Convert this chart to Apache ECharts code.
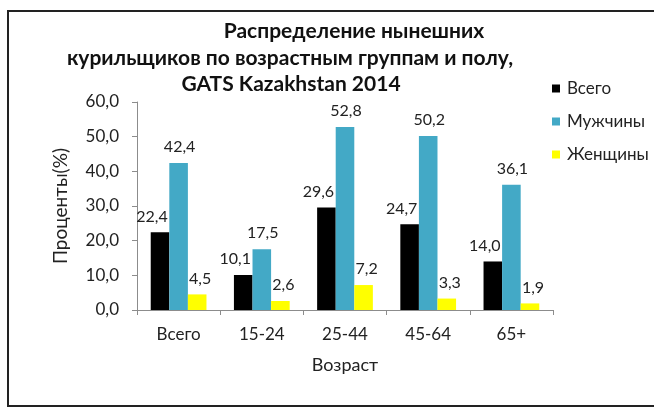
<!DOCTYPE html>
<html>
<head>
<meta charset="utf-8">
<script src="https://cdn.jsdelivr.net/npm/echarts@6/dist/echarts.min.js"></script>
<style>
  html, body { margin: 0; padding: 0; background: #fff; }
  #chart { width: 654px; height: 409px; }
</style>
</head>
<body>
<div id="chart"></div>
<script>
// Age groups on the x axis
const categories = ['Всего', '15-24', '25-44', '45-64', '65+'];
// Share of current smokers, %
const totalValues = [22.4, 10.1, 29.6, 24.7, 14.0];
const maleValues = [42.4, 17.5, 52.8, 50.2, 36.1];
const femaleValues = [4.5, 2.6, 7.2, 3.3, 1.9];
const seriesNames = ['Всего', 'Мужчины', 'Женщины'];
const yTicks = { min: 0, max: 60, interval: 10 };

const FONT = 'Lato, "Open Sans", sans-serif';
const fmt = v => v.toFixed(1).replace('.', ',');

const chart = echarts.init(document.getElementById('chart'), null, { renderer: 'canvas' });

function labelCfg(dx) {
  return {
    show: true,
    position: 'top',
    distance: 8,
    offset: [dx, 0],
    fontFamily: FONT,
    fontSize: 16,
    color: '#222',
    formatter: p => fmt(p.value)
  };
}

const titleLines = [
  { text: 'Распределение нынешних', x: 354, y: 21 },
  { text: 'курильщиков по возрастным группам и полу,', x: 290, y: 48 },
  { text: 'GATS Kazakhstan 2014', x: 291, y: 74 }
];

chart.setOption({
  animation: false,
  backgroundColor: '#fff',
  title: titleLines.map(t => ({
    text: t.text,
    left: t.x,
    top: t.y,
    textAlign: 'center',
    padding: 0,
    textStyle: { fontFamily: FONT, fontWeight: 'bold', fontSize: 21, color: '#111' }
  })),
  legend: {
    orient: 'vertical',
    left: 552,
    top: 80,
    padding: 0,
    itemWidth: 8,
    itemHeight: 8,
    itemGap: 16,
    icon: 'rect',
    data: seriesNames,
    textStyle: { fontFamily: FONT, fontSize: 17, color: '#222', padding: [0, 0, 0, 2] }
  },
  graphic: [{
    type: 'rect',
    shape: { x: 8, y: 11, width: 700, height: 395 },
    style: { fill: 'none', stroke: '#222', lineWidth: 2 },
    silent: true
  }],
  grid: { left: 137, top: 102, width: 416, height: 208, containLabel: false },
  xAxis: {
    type: 'category',
    data: categories,
    name: 'Возраст',
    nameLocation: 'middle',
    nameGap: 46,
    nameTextStyle: { fontFamily: FONT, fontSize: 18, color: '#222' },
    axisLine: { lineStyle: { color: '#8c8c8c', width: 1 } },
    axisTick: { show: true, alignWithLabel: false, length: 5, lineStyle: { color: '#8c8c8c' } },
    axisLabel: { fontFamily: FONT, fontSize: 17, color: '#222', margin: 16 }
  },
  yAxis: {
    type: 'value',
    min: yTicks.min,
    max: yTicks.max,
    interval: yTicks.interval,
    name: 'Проценты(%)',
    nameLocation: 'middle',
    nameRotate: 90,
    nameGap: 67,
    nameTextStyle: { fontFamily: FONT, fontSize: 19, color: '#222' },
    splitLine: { show: false },
    axisLine: { show: true, lineStyle: { color: '#8c8c8c', width: 1 } },
    axisTick: { show: true, length: 5, lineStyle: { color: '#8c8c8c' } },
    axisLabel: { fontFamily: FONT, fontSize: 17, color: '#222', margin: 18, formatter: v => fmt(v) }
  },
  series: [
    { name: seriesNames[0], type: 'bar', data: totalValues, itemStyle: { color: '#000000' },
      barGap: '0%', barCategoryGap: '33%', label: labelCfg(-8) },
    { name: seriesNames[1], type: 'bar', data: maleValues, itemStyle: { color: '#43A9C6' },
      barGap: '0%', barCategoryGap: '33%', label: labelCfg(1) },
    { name: seriesNames[2], type: 'bar', data: femaleValues, itemStyle: { color: '#FFFF00' },
      barGap: '0%', barCategoryGap: '33%', label: labelCfg(3) }
  ]
});
</script>
</body>
</html>
